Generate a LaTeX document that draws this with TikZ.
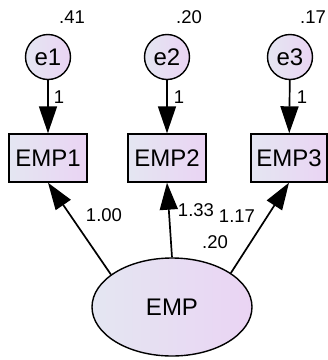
\documentclass[tikz,border=0pt]{standalone}
\usepackage{fontspec}
\setmainfont{Liberation Sans}
\usepackage{tikz}
\usetikzlibrary{arrows.meta, shapes.geometric}
\definecolor{fillL}{RGB}{228,230,242}
\definecolor{fillR}{RGB}{234,212,243}
\tikzset{
  varfill/.style={left color=fillL, right color=fillR, draw=black, line width=1.4pt},
  errnode/.style={circle, varfill, minimum size=45pt, inner sep=0pt, font=\fontsize{24}{26}\selectfont},
  obsbox/.style={rectangle, varfill, minimum width=78pt, minimum height=48pt, inner sep=0pt, font=\fontsize{24}{26}\selectfont},
  latnode/.style={ellipse, varfill, minimum width=160pt, minimum height=98pt, inner sep=0pt, font=\fontsize{24}{26}\selectfont},
  semarrow/.style={draw, line width=1.7pt, -{Triangle[length=27pt,width=18pt]}},
  est/.style={font=\fontsize{18.5}{20}\selectfont, inner sep=0pt},
}
\def\scale{1}

\begin{document}
\begin{tikzpicture}[x=\scale pt, y=-\scale pt]
  \useasboundingbox (0,0) rectangle (328,360);
  % error terms
  \node[errnode] (e1) at (48,57) {e1};
  \node[errnode] (e2) at (167,57) {e2};
  \node[errnode] (e3) at (290,57) {e3};
  % indicators
  \node[obsbox] (EMP1) at (48,158) {EMP1};
  \node[obsbox] (EMP2) at (167,158) {EMP2};
  \node[obsbox, minimum width=76pt] (EMP3) at (289,158) {EMP3};
  % latent factor
  \node[latnode] (EMP) at (172,307) {EMP};

  \draw[semarrow] (e1) -- (EMP1);
  \draw[semarrow] (e2) -- (EMP2);
  \draw[semarrow] (e3) -- (EMP3);
  \draw[semarrow] (EMP.152) -- (EMP1.south);
  \draw[semarrow] (EMP.north) -- (EMP2.south);
  \draw[semarrow] (EMP.30) -- (EMP3.south);

  % variances and loadings
  \node[est] (v1) at (72,17) {.41};
  \node[est] (v2) at (189,17) {.20};
  \node[est] (v3) at (313,17) {.17};
  \node[est] (f1) at (59,97) {1};
  \node[est] (f2) at (179,97) {1};
  \node[est] (f3) at (302,97) {1};
  \node[est] (l1) at (104,215) {1.00};
  \node[est] (l2) at (196,210) {1.33};
  \node[est] (l3) at (237,216) {1.17};
  \node[est] (vE) at (215,242) {.20};
\end{tikzpicture}
\end{document}
